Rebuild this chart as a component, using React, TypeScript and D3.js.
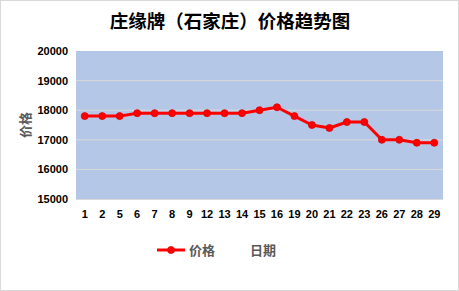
import React from "react";
import * as d3 from "d3";

const categories = ["1","2","5","6","7","8","9","12","13","14","15","16","19","20","21","22","23","26","27","28","29"];
const prices = [17800,17800,17800,17900,17900,17900,17900,17900,17900,17900,18000,18100,17800,17500,17400,17600,17600,17000,17000,16900,16900];
const yTicks = [15000,16000,17000,18000,19000,20000];
const title = "庄缘牌（石家庄）价格趋势图";
const seriesName = "价格";
const xTitle = "日期";

const W = 459, H = 291;
const L = 76, R = 443, T = 51, B = 199;

export default function App() {
  const x = d3.scaleBand<string>().domain(categories).range([L, R]);
  const y = d3.scaleLinear().domain([15000, 20000]).range([B, T]);
  const line = d3.line<number>()
    .x((_, i) => (x(categories[i]) as number) + x.bandwidth() / 2)
    .y(d => y(d));
  const font = "'Liberation Sans', Arial, sans-serif";
  const cjk = "'Noto Sans CJK SC', sans-serif";
  return (
    <svg width={W} height={H} style={{ position: "absolute", left: 0, top: 0 }}>
      <rect x={0.5} y={0.5} width={W - 1} height={H - 1} fill="#fff" stroke="#D9D9D9" />
      <text x={230} y={28} textAnchor="middle" fontFamily={cjk} fontWeight="bold" fontSize={18.5} fill="#000">{title}</text>
      <rect x={L} y={T} width={R - L} height={B - T} fill="#B4C7E7" />
      {yTicks.filter(t => t !== 15000 && t !== 20000).map(t => (
        <line key={t} x1={L} x2={R} y1={y(t)} y2={y(t)} stroke="#D9D9D9" strokeWidth={1} />
      ))}
      <line x1={L} x2={R} y1={B + 0.5} y2={B + 0.5} stroke="#D9D9D9" strokeWidth={1} />
      {yTicks.map(t => (
        <text key={t} x={68} y={y(t) + 4} textAnchor="end" fontFamily={font} fontWeight="bold" fontSize={11} fill="#000">{t}</text>
      ))}
      {categories.map(c => (
        <text key={c} x={(x(c) as number) + x.bandwidth() / 2} y={218} textAnchor="middle" fontFamily={font} fontWeight="bold" fontSize={11} fill="#000">{c}</text>
      ))}
      <text transform={`translate(30,125) rotate(-90)`} textAnchor="middle" fontFamily={cjk} fontWeight="bold" fontSize={13} fill="#595959">{seriesName}</text>
      <path d={line(prices) || ""} fill="none" stroke="#FF0000" strokeWidth={3} strokeLinejoin="round" />
      {prices.map((p, i) => (
        <circle key={i} cx={(x(categories[i]) as number) + x.bandwidth() / 2} cy={y(p)} r={3.5} fill="#FF0000" stroke="#E00000" strokeWidth={0.8} />
      ))}
      <line x1={157} x2={185} y1={250} y2={250} stroke="#FF0000" strokeWidth={3} />
      <circle cx={171} cy={250} r={3.5} fill="#FF0000" stroke="#E00000" strokeWidth={0.8} />
      <text x={189} y={255} fontFamily={cjk} fontWeight="bold" fontSize={13} fill="#595959">{seriesName}</text>
      <text x={250} y={255} fontFamily={cjk} fontWeight="bold" fontSize={13} fill="#595959">{xTitle}</text>
    </svg>
  );
}
